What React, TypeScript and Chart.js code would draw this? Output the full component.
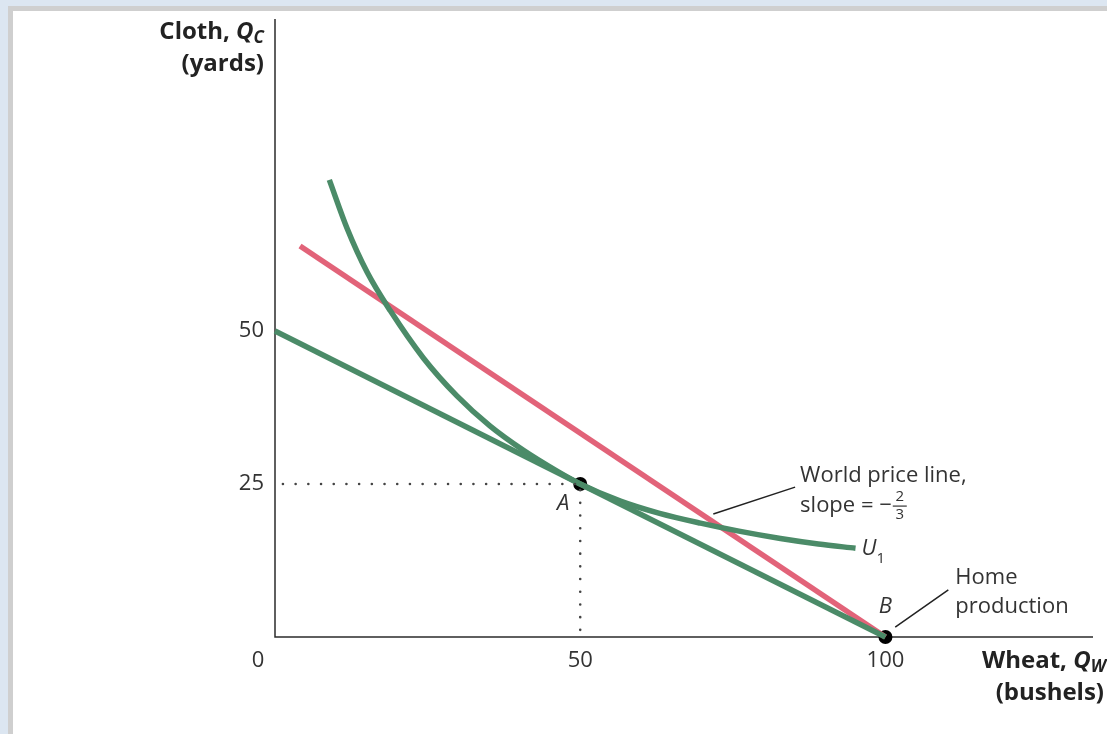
import React, { useEffect, useRef } from "react";
import { Chart, registerables } from "chart.js";

Chart.register(...registerables);

const W = 1107;
const H = 734;

// Home production possibility frontier
const ppfX = [0, 100];
const ppfY = [50, 0];

// World price line (slope -2/3 through B)
const worldX = [4.1, 100];
const worldY = [63.9, 0];

// Indifference curve U1
const uX = [8.9, 11.8, 15.1, 18.9, 24.3, 29.8, 35.2, 40.7, 46.2, 50, 56.6, 63, 69.7, 76, 82.8, 89, 95.1];
const uY = [74.7, 66.8, 59.6, 53.3, 45.6, 39.4, 34.5, 30.5, 27.1, 25, 22.2, 20.2, 18.6, 17.3, 16.1, 15.2, 14.5];

// Points
const pointLabels = ["A", "B"];
const pointX = [50, 100];
const pointY = [25, 0];

// Ticks
const xTicks = [50, 100];
const yTicks = [25, 50];
const xMax = 134;
const yMax = 101;

// Dotted guide lines
const hGuideX = [1.3, 49.2];
const hGuideY = [25, 25];
const vGuideX = [50, 50];
const vGuideY = [24, 1.1];

// Leader lines (data coords)
const worldLeaderX = [71.8, 85.2];
const worldLeaderY = [20.1, 24.5];
const homeLeaderX = [101.6, 110.3];
const homeLeaderY = [1.6, 7.7];

const GREEN = "#4b8b68";
const RED = "#e26379";
const FONT = "'Open Sans', 'Noto Sans', sans-serif";

const zip = (xs: number[], ys: number[]) => xs.map((x, i) => ({ x, y: ys[i] }));

type Seg = { t: string; f: string; dy?: number };
function richText(ctx: CanvasRenderingContext2D, segs: Seg[], x: number, y: number, align: "left" | "right") {
  let total = 0;
  for (const s of segs) {
    ctx.font = s.f;
    total += ctx.measureText(s.t).width;
  }
  let cx = align === "left" ? x : x - total;
  ctx.textAlign = "left";
  for (const s of segs) {
    ctx.font = s.f;
    ctx.fillText(s.t, cx, y + (s.dy || 0));
    cx += ctx.measureText(s.t).width;
  }
}

const framePlugin = {
  id: "frame",
  beforeDraw(chart: any) {
    const ctx = chart.ctx;
    ctx.save();
    ctx.fillStyle = "#dce6f1";
    ctx.fillRect(0, 0, W, H);
    ctx.fillStyle = "#cfcfcf";
    ctx.fillRect(8, 6, W, H);
    ctx.fillStyle = "#ffffff";
    ctx.fillRect(13, 11, W, H);
    ctx.restore();
  },
  beforeDatasetsDraw(chart: any) {
    const ctx = chart.ctx;
    const xs = chart.scales.x;
    const ys = chart.scales.y;
    const x0 = xs.getPixelForValue(0);
    const y0 = ys.getPixelForValue(0);
    ctx.save();
    ctx.strokeStyle = "#2b2b2b";
    ctx.lineWidth = 1.5;
    ctx.beginPath();
    ctx.moveTo(x0, ys.getPixelForValue(yMax));
    ctx.lineTo(x0, y0);
    ctx.lineTo(xs.getPixelForValue(xMax), y0);
    ctx.stroke();
    ctx.restore();
  },
  afterDraw(chart: any) {
    const ctx = chart.ctx;
    const xs = chart.scales.x;
    const ys = chart.scales.y;
    const px = (v: number) => xs.getPixelForValue(v);
    const py = (v: number) => ys.getPixelForValue(v);
    const x0 = px(0);
    const y0 = py(0);
    ctx.save();
    ctx.fillStyle = "#333333";
    ctx.textBaseline = "middle";
    const tickFont = `22px ${FONT}`;
    ctx.font = tickFont;
    // y ticks
    ctx.textAlign = "right";
    for (const t of yTicks) ctx.fillText(String(t), x0 - 11, py(t));
    // origin
    ctx.textAlign = "center";
    ctx.fillText("0", x0 - 17, y0 + 24);
    for (const t of xTicks) ctx.fillText(String(t), px(t), y0 + 24);

    // axis titles
    ctx.fillStyle = "#222222";
    const b = `bold 24px ${FONT}`;
    const bi = `italic bold 24px ${FONT}`;
    const bis = `italic bold 17px ${FONT}`;
    richText(ctx, [{ t: "Cloth, ", f: b }, { t: "Q", f: bi }, { t: "C", f: bis, dy: 6 }], x0 - 11, 32, "right");
    richText(ctx, [{ t: "(yards)", f: b }], x0 - 11, 64, "right");
    richText(ctx, [{ t: "Wheat, ", f: b }, { t: "Q", f: bi }, { t: "W", f: bis, dy: 6 }], 982, y0 + 24, "left");
    richText(ctx, [{ t: "(bushels)", f: b }], 1104, y0 + 56, "right");

    // leader lines
    ctx.strokeStyle = "#222222";
    ctx.lineWidth = 1.5;
    ctx.beginPath();
    ctx.moveTo(px(worldLeaderX[0]), py(worldLeaderY[0]));
    ctx.lineTo(px(worldLeaderX[1]), py(worldLeaderY[1]));
    ctx.moveTo(px(homeLeaderX[0]), py(homeLeaderY[0]));
    ctx.lineTo(px(homeLeaderX[1]), py(homeLeaderY[1]));
    ctx.stroke();

    // annotations
    ctx.fillStyle = "#333333";
    const reg = `22px ${FONT}`;
    const it = `italic 22px ${FONT}`;
    ctx.font = it;
    ctx.textAlign = "center";
    ctx.fillText(pointLabels[0], px(pointX[0]) - 17, py(pointY[0]) + 20);
    ctx.fillText(pointLabels[1], px(pointX[1]), py(pointY[1]) - 30);
    // U1
    const uEndX = px(uX[uX.length - 1]);
    const uEndY = py(uY[uY.length - 1]);
    richText(ctx, [{ t: "U", f: it }, { t: "1", f: `15px ${FONT}`, dy: 10 }], uEndX + 6, uEndY, "left");

    // World price line text
    const wx = px(worldLeaderX[1]) + 5;
    const wy = py(worldLeaderY[1]) - 11;
    ctx.font = reg;
    ctx.textAlign = "left";
    ctx.fillText("World price line,", wx, wy);
    ctx.fillText("slope = \u2212", wx, wy + 30);
    const sw = ctx.measureText("slope = \u2212").width;
    const fx = wx + sw + 8;
    ctx.font = `15px ${FONT}`;
    ctx.textAlign = "center";
    ctx.fillText("2", fx, wy + 21);
    ctx.fillText("3", fx, wy + 39);
    ctx.lineWidth = 1.2;
    ctx.beginPath();
    ctx.moveTo(fx - 7, wy + 30);
    ctx.lineTo(fx + 7, wy + 30);
    ctx.strokeStyle = "#333333";
    ctx.stroke();

    // Home production
    const hx = px(homeLeaderX[1]) + 7;
    const hy = py(homeLeaderY[1]) - 12;
    ctx.font = reg;
    ctx.textAlign = "left";
    ctx.fillText("Home", hx, hy);
    ctx.fillText("production", hx, hy + 29);
    ctx.restore();
  },
};

export default function App() {
  const ref = useRef<HTMLCanvasElement | null>(null);
  useEffect(() => {
    if (!ref.current) return;
    const dotted = {
      borderColor: "#444444",
      borderWidth: 2.6,
      borderDash: [0, 12.7],
      borderCapStyle: "round",
      pointRadius: 0,
      showLine: true,
      fill: false,
      clip: false,
    };
    const chart = new Chart(ref.current, {
      type: "scatter",
      data: {
        datasets: [
          { ...dotted, data: zip(hGuideX, hGuideY) } as any,
          { ...dotted, data: zip(vGuideX, vGuideY) } as any,
          {
            data: zip(ppfX, ppfY),
            showLine: true,
            borderColor: GREEN,
            borderWidth: 5.5,
            pointRadius: 0,
            clip: false,
          },
          {
            data: zip(uX, uY),
            showLine: true,
            borderColor: GREEN,
            borderWidth: 5.5,
            pointRadius: 0,
            cubicInterpolationMode: "monotone",
            clip: false,
          } as any,
          {
            data: zip(worldX, worldY),
            showLine: true,
            borderColor: RED,
            borderWidth: 5.5,
            pointRadius: 0,
            clip: false,
          },
          {
            data: zip(pointX, pointY),
            showLine: false,
            pointRadius: 7,
            pointBackgroundColor: "#000000",
            pointBorderColor: "#000000",
            pointBorderWidth: 0,
            clip: false,
          },
        ],
      },
      options: {
        responsive: false,
        animation: false,
        events: [],
        layout: { padding: { left: 275, right: 14, top: 19, bottom: 97 } },
        plugins: { legend: { display: false }, tooltip: { enabled: false } },
        scales: {
          x: { type: "linear", min: 0, max: xMax, display: false },
          y: { type: "linear", min: 0, max: yMax, display: false },
        },
      },
      plugins: [framePlugin],
    });
    return () => chart.destroy();
  }, []);
  return (
    <div style={{ position: "fixed", left: 0, top: 0, width: W, height: H }}>
      <canvas ref={ref} width={W} height={H} style={{ width: W, height: H, display: "block" }} />
    </div>
  );
}
